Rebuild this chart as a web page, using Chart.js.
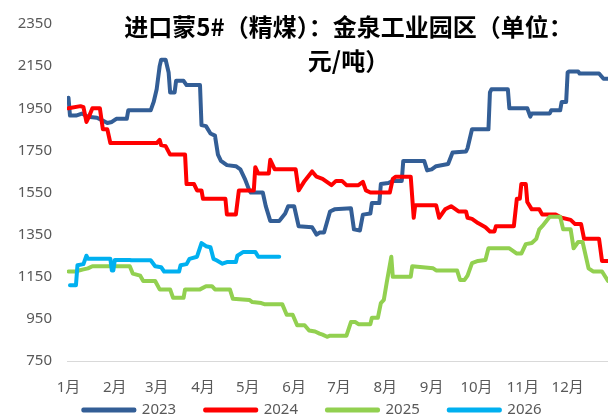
<!DOCTYPE html>
<html>
<head>
<meta charset="utf-8">
<script src="https://cdn.jsdelivr.net/npm/chart.js@4.4.1/dist/chart.umd.min.js"></script>
<style>
  body { margin: 0; background: #fff; }
  #wrap { width: 608px; height: 418px; }
</style>
</head>
<body>
<div id="wrap"><canvas id="priceChart"></canvas></div>
<script>
// month ticks (day of year)
var monthLabels = ['1月','2月','3月','4月','5月','6月','7月','8月','9月','10月','11月','12月'];
var monthStarts = [0,31,59,90,120,151,181,212,243,273,304,334];

// 2023
var days2023 = [0,1,5,9,13,19,22,26,29,32,39,40,55,57,59,61,62,65,67,68,71,72,77,79,88,89,92,95,98,100,102,106,112,115,118,121,122,130,132,135,141,145,147,151,154,163,166,168,171,175,178,189,191,195,197,202,203,208,209,214,217,223,224,238,240,243,246,254,257,266,267,270,281,282,283,294,295,307,309,310,322,323,329,330,333,334,335,341,342,355,358,361];
var vals2023 = [2000,1915,1915,1925,1910,1905,1895,1880,1885,1900,1900,1940,1940,1980,2040,2150,2180,2180,2120,2025,2025,2080,2080,2060,2060,1870,1865,1830,1820,1730,1700,1680,1675,1660,1615,1560,1550,1550,1485,1415,1415,1450,1485,1485,1390,1385,1350,1360,1360,1460,1470,1475,1375,1370,1445,1450,1500,1500,1590,1595,1605,1605,1700,1700,1655,1660,1675,1685,1740,1745,1760,1850,1850,2025,2040,2040,1950,1950,1910,1925,1925,1940,1940,1980,1980,2120,2125,2125,2115,2115,2090,2090];

// 2024
var days2024 = [0,8,10,12,14,16,21,23,26,28,59,61,62,65,68,78,79,84,86,89,90,105,106,112,114,124,125,127,134,135,138,152,154,158,163,166,170,176,179,183,186,194,197,199,202,215,217,219,229,231,232,246,248,252,256,261,266,267,270,274,279,282,285,286,298,300,302,303,306,307,310,315,317,326,330,336,339,343,345,355,357,361];
var vals2024 = [1950,1960,1955,1885,1915,1950,1950,1850,1850,1785,1785,1800,1775,1770,1730,1730,1590,1590,1560,1560,1520,1520,1445,1445,1560,1560,1670,1640,1640,1705,1660,1660,1560,1605,1650,1625,1615,1585,1605,1605,1585,1585,1600,1560,1550,1550,1615,1625,1625,1430,1490,1490,1430,1470,1485,1460,1460,1430,1425,1405,1385,1365,1365,1390,1390,1520,1520,1590,1590,1505,1470,1470,1445,1445,1430,1420,1400,1400,1330,1330,1225,1225];

// 2025
var days2025 = [0,5,7,10,13,16,41,43,48,50,58,61,68,70,77,78,88,92,96,98,108,110,121,123,129,131,143,146,150,153,158,161,165,168,170,173,175,186,189,192,194,202,203,207,209,211,213,216,217,229,230,244,246,260,262,265,267,270,274,279,281,295,300,303,306,310,313,315,317,322,329,331,336,338,341,344,348,351,357,361];
var vals2025 = [1175,1175,1180,1185,1190,1200,1200,1165,1155,1130,1130,1090,1090,1050,1050,1090,1090,1105,1105,1090,1090,1045,1040,1030,1025,1020,1020,970,970,920,920,895,890,880,875,865,870,870,935,935,925,925,955,955,1025,1040,1125,1245,1150,1150,1200,1190,1180,1180,1135,1135,1155,1215,1225,1230,1285,1285,1260,1260,1305,1310,1330,1375,1390,1435,1435,1375,1375,1285,1315,1315,1190,1175,1175,1130];

// 2026
var days2026 = [1,5,6,10,12,13,28,29,30,31,41,42,55,58,62,64,74,75,79,81,86,89,92,95,97,99,101,103,106,112,113,117,125,127,141];
var vals2026 = [1110,1110,1205,1210,1250,1235,1235,1180,1180,1230,1230,1228,1228,1200,1195,1175,1175,1205,1210,1235,1245,1310,1295,1290,1235,1228,1220,1212,1220,1220,1250,1268,1268,1245,1245];

function makeSeries(label, days, vals, color, order) {
  var pts = [];
  for (var i in days) {
    pts.push({x: days[i], y: vals[i]});
  }
  return {
    label: label,
    data: pts,
    borderColor: color,
    backgroundColor: color,
    borderWidth: 4,
    borderJoinStyle: 'round',
    borderCapStyle: 'round',
    pointRadius: 0,
    fill: false,
    order: order
  };
}

// labels sit outside their scale boxes here, so widen the clip boxes;
// the title also sits a little right of the plot centre
var unclipLabels = {
  id: 'unclipLabels',
  afterLayout: function(chart) {
    chart.scales.y.left = 0;
    chart.scales.x.bottom = chart.height;
    chart.titleBlock.left += 11;
    chart.titleBlock.right += 11;
  }
};

Chart.defaults.font.family = '"Noto Sans", "Noto Sans CJK SC", sans-serif';
Chart.defaults.color = '#595959';

var ctx = document.getElementById('priceChart');
var priceChart = new Chart(ctx, {
  type: 'line',
  data: {
    datasets: [
      makeSeries('2023', days2023, vals2023, '#335E96', 4),
      makeSeries('2024', days2024, vals2024, '#FF0000', 3),
      makeSeries('2025', days2025, vals2025, '#92D050', 2),
      makeSeries('2026', days2026, vals2026, '#00B0F0', 1)
    ]
  },
  plugins: [unclipLabels],
  options: {
    responsive: true,
    maintainAspectRatio: false,
    animation: false,
    layout: { padding: { left: 17, right: 0, top: 0, bottom: -9.5 } },
    plugins: {
      title: {
        display: true,
        fullSize: false,
        text: ['进口蒙5#（精煤）：金泉工业园区（单位：', '元/吨）'],
        color: '#000',
        font: { family: '"Noto Sans CJK SC", sans-serif', size: 24, weight: 'bold', lineHeight: 1.45 },
        padding: { top: 2, bottom: -54.6 }
      },
      legend: {
        position: 'bottom',
        labels: {
          boxWidth: 51,
          boxHeight: 1,
          padding: 29,
          color: '#595959',
          font: { size: 15 },
          sort: function(a, b) { return a.datasetIndex - b.datasetIndex; }
        }
      },
      tooltip: { enabled: false }
    },
    scales: {
      x: {
        type: 'linear',
        min: -1,
        max: 361,
        afterBuildTicks: function(scale) {
          scale.ticks = monthStarts.map(function(d) { return {value: d}; });
        },
        afterFit: function(scale) { scale.height = 12.5; },
        ticks: {
          autoSkip: false,
          maxRotation: 0,
          padding: 18,
          color: '#595959',
          font: { size: 15 },
          callback: function(value) {
            return monthLabels[monthStarts.indexOf(value)];
          }
        },
        grid: { display: false, drawTicks: false },
        border: { display: true, color: '#D9D9D9', width: 1 }
      },
      y: {
        min: 750,
        max: 2350,
        afterFit: function(scale) { scale.width = 50; },
        ticks: {
          stepSize: 200,
          padding: 15,
          color: '#595959',
          font: { size: 15 },
          callback: function(value) { return String(value); }
        },
        grid: { display: false, drawTicks: false },
        border: { display: false }
      }
    }
  }
});
</script>
</body>
</html>
